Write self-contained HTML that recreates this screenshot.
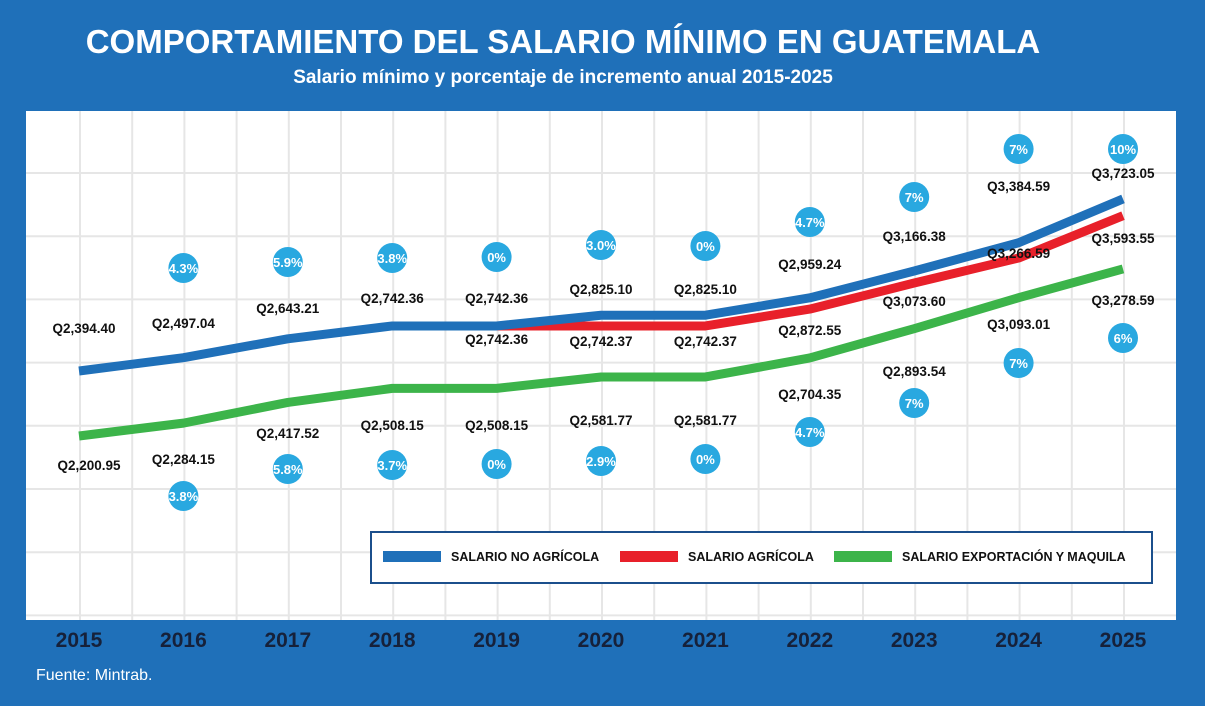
<!DOCTYPE html>
<html><head><meta charset="utf-8"><style>
body{margin:0;width:1205px;height:701px;background:#1f70b9;overflow:hidden;font-family:"Liberation Sans",sans-serif}
</style></head><body>
<svg width="1205" height="701" xmlns="http://www.w3.org/2000/svg" id="svg">
<rect x="0" y="0" width="1205" height="701" fill="#1f70b9"/>
<text x="563" y="53" text-anchor="middle" fill="#fff" font-size="33" font-weight="bold">COMPORTAMIENTO DEL SALARIO MÍNIMO EN GUATEMALA</text>
<text x="563" y="83" text-anchor="middle" fill="#fff" font-size="19" font-weight="bold">Salario mínimo y porcentaje de incremento anual 2015-2025</text>
<rect x="26" y="111" width="1150" height="509" fill="#fff"/>
<g id="grid"></g><g id="lines"></g><g id="labels"></g>
<text x="36" y="680" fill="#fff" font-size="16">Fuente: Mintrab.</text>
</svg>
<script>
const years=["2015","2016","2017","2018","2019","2020","2021","2022","2023","2024","2025"];
const noAgricola=[2394.40,2497.04,2643.21,2742.36,2742.36,2825.10,2825.10,2959.24,3166.38,3384.59,3723.05];
const agricola=[null,null,null,null,2742.36,2742.37,2742.37,2872.55,3073.60,3266.59,3593.55];
const exportacion=[2200.95,2284.15,2417.52,2508.15,2508.15,2581.77,2581.77,2704.35,2893.54,3093.01,3278.59];
const pctUpper=["","4.3%","5.9%","3.8%","0%","3.0%","0%","4.7%","7%","7%","10%"];
const pctLower=["","3.8%","5.8%","3.7%","0%","2.9%","0%","4.7%","7%","7%","6%"];
const NS="http://www.w3.org/2000/svg";
function xS(i){return 79+i*104.4;}
function yMain(v){return 371-(v-2394.4)*0.1295;}
function yExp(v){return 436-(v-2200.95)*0.155;}
function mk(tag,attrs,parent,txt){const e=document.createElementNS(NS,tag);for(const k in attrs)e.setAttribute(k,attrs[k]);if(txt!=null)e.textContent=txt;parent.appendChild(e);return e;}
const grid=document.getElementById('grid');
for(let x=80;x<1176;x+=52.2){const l=mk('line',{x1:x,x2:x,y1:111,y2:620,stroke:'#e6e6e6','stroke-width':2},grid);

}
for(let y=173;y<620;y+=63.2){const l=mk('line',{x1:26,x2:1176,y1:y,y2:y,stroke:'#e6e6e6','stroke-width':2},grid);

}
const lines=document.getElementById('lines');
function series(arr,yf,color,name){const pts=[];arr.forEach((v,i)=>{if(v!=null)pts.push(xS(i)+','+yf(v));});
const p=mk('polyline',{points:pts.join(' '),fill:'none',stroke:color,'stroke-width':9,'stroke-linejoin':'round'},lines);

}
series(exportacion,yExp,'#3cb44a','line-exportacion-maquila');
series(agricola,yMain,'#e8202a','line-agricola');
series(noAgricola,yMain,'#1f70b9','line-no-agricola');
const lab=document.getElementById('labels');
function fmt(v){return 'Q'+v.toLocaleString('en-US',{minimumFractionDigits:2,maximumFractionDigits:2});}
const blueLY=[333,328,313,303,303,294,294,269,241,191,178];
const redLY=[0,0,0,0,344,346,346,335,306,258,243];
const greenLY=[470,464,438,430,430,425,425,399,376,329,305];
const upY=[0,268,262,258,257,245,246,222,197,149,149];
const loY=[0,496,469,465,464,461,459,432,403,363,338];
function txt(x,y,s,name){const t=mk('text',{x:x,y:y,'text-anchor':'middle','font-size':13.5,'font-weight':'bold',fill:'#111'},lab,s);

}
function bub(x,y,s,name){const c=mk('circle',{cx:x,cy:y,r:15,fill:'#29a8e0'},lab);


const t=mk('text',{x:x,y:y+5,'text-anchor':'middle','font-size':13,'font-weight':'bold',fill:'#fff'},lab,s);

}
years.forEach((yr,i)=>{const x=xS(i);
txt(i==0?x+5:x,blueLY[i],fmt(noAgricola[i]),'label-no-agricola-'+yr);
if(agricola[i]!=null)txt(x,redLY[i],fmt(agricola[i]),'label-agricola-'+yr);
txt(i==0?x+10:x,greenLY[i],fmt(exportacion[i]),'label-exportacion-'+yr);
if(pctUpper[i])bub(x,upY[i],pctUpper[i],'pct-upper-'+yr);
if(pctLower[i])bub(x,loY[i],pctLower[i],'pct-lower-'+yr);
const t=mk('text',{x:x,y:647,'text-anchor':'middle','font-size':21,'font-weight':'bold',fill:'#16213a'},lab,yr);


});
const leg=mk('g',{},lab);


mk('rect',{x:371,y:532,width:781,height:51,fill:'#fff',stroke:'#1b4f8c','stroke-width':2},leg);
const entries=[["SALARIO NO AGRÍCOLA","#1f70b9",383],["SALARIO AGRÍCOLA","#e8202a",620],["SALARIO EXPORTACIÓN Y MAQUILA","#3cb44a",834]];
entries.forEach(e=>{const g=mk('g',{},leg);


mk('rect',{x:e[2],y:551,width:58,height:11,fill:e[1]},g);
mk('text',{x:e[2]+68,y:561,'font-size':12.5,'font-weight':'bold',fill:'#111'},g,e[0]);});
</script>
</body></html>
